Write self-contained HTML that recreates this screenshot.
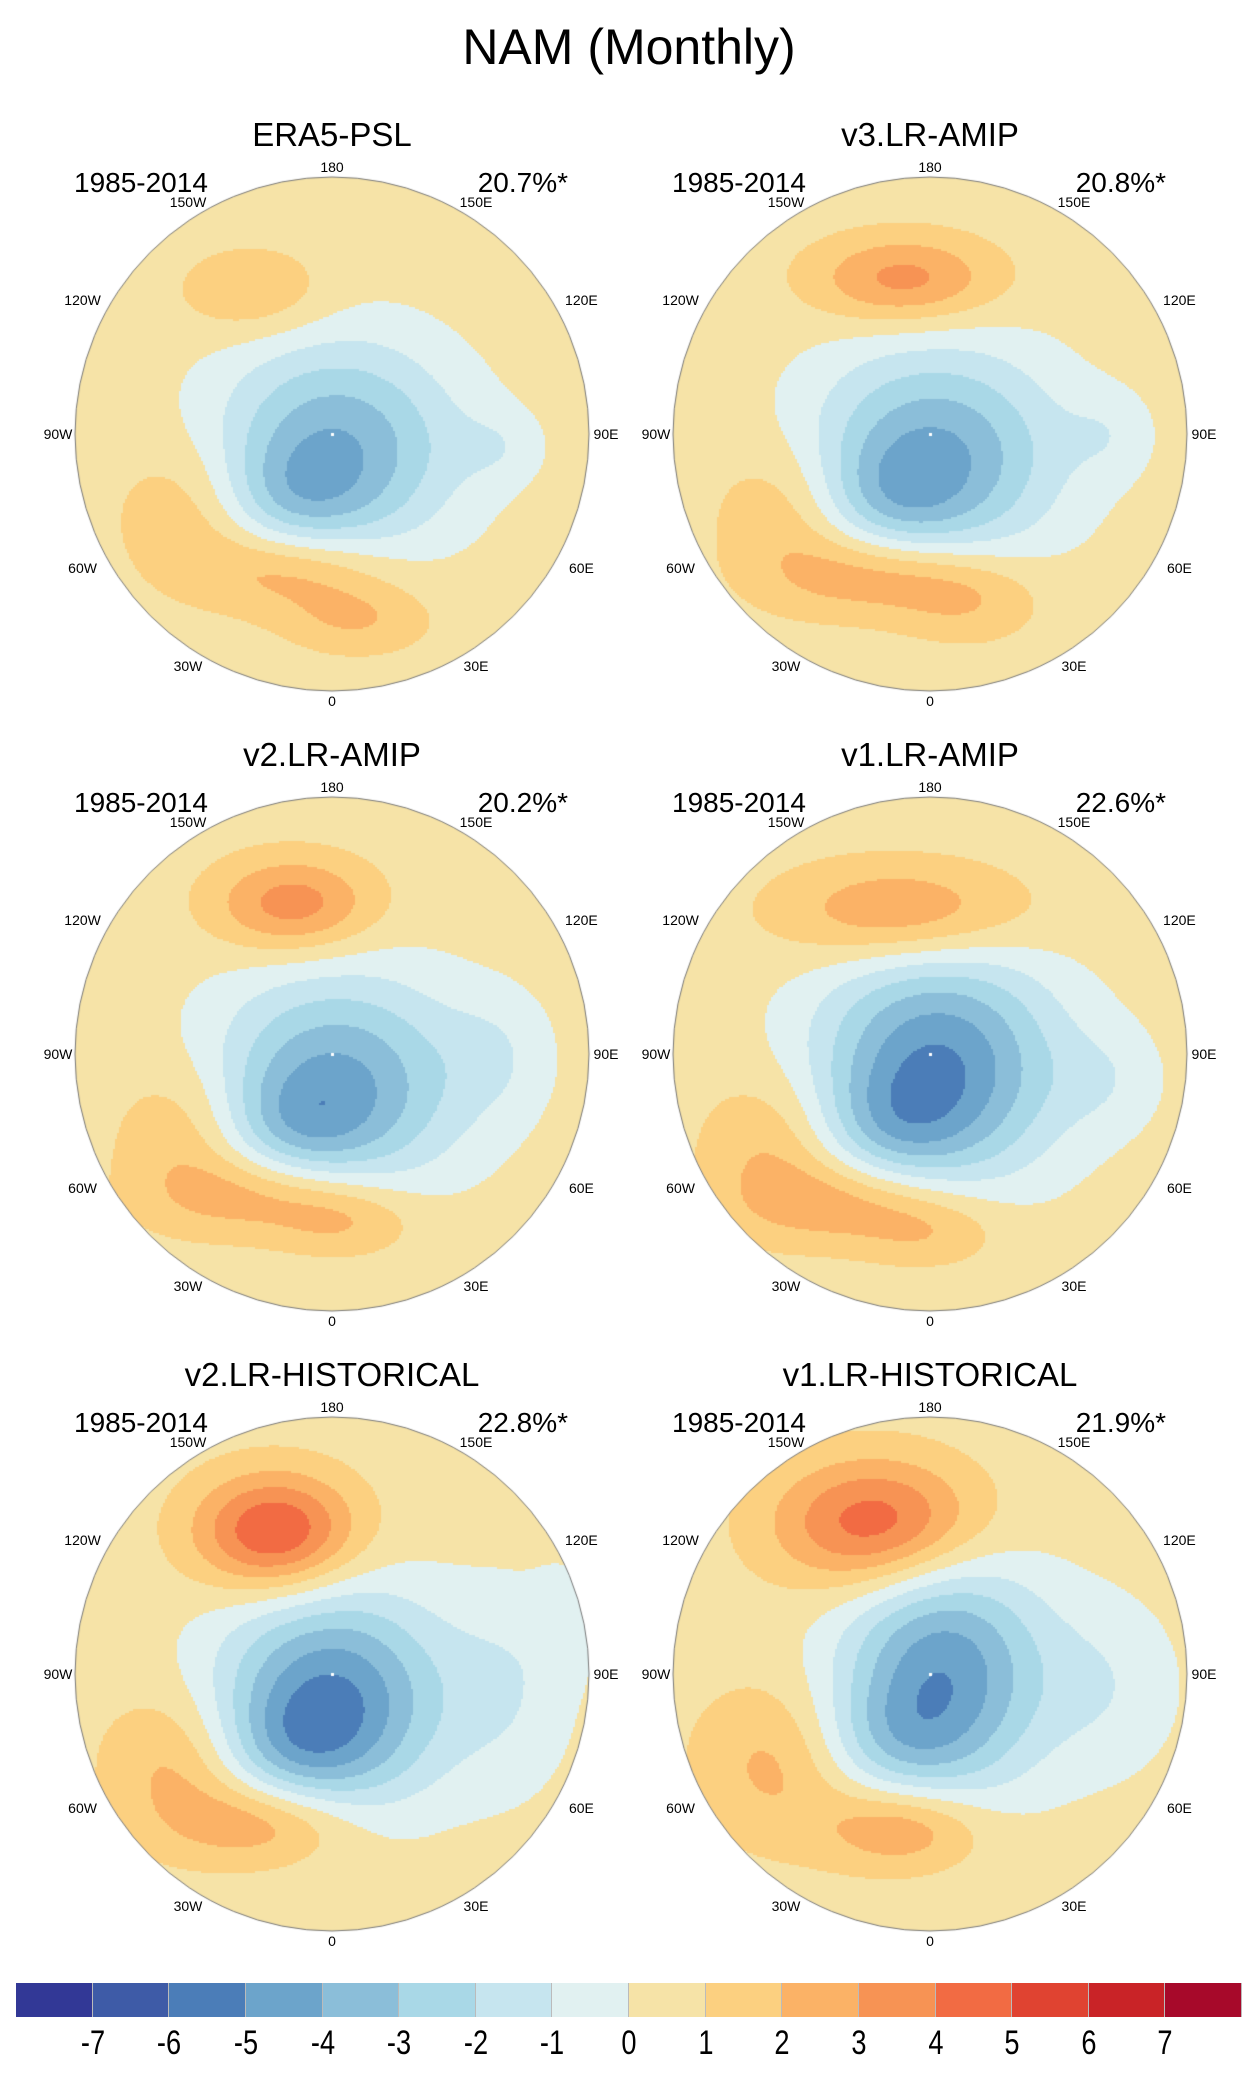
<!DOCTYPE html>
<html><head><meta charset="utf-8">
<style>
body{margin:0;background:#fff;font-family:"Liberation Sans",sans-serif;}
#page{position:relative;width:1258px;height:2086px;overflow:hidden;background:#fff;}
.t{position:absolute;white-space:nowrap;color:#000;line-height:1;}
.lon{font-size:14px;transform:translate(-50%,-50%);}
canvas{position:absolute;}
</style></head>
<body>
<div id="page">
<div class="t" style="left:0;width:1258px;text-align:center;top:22px;font-size:50px;">NAM (Monthly)</div>
<div id="cbar"></div>
</div>
<script>
// color levels (boundaries -7..7)
const levels = [-7,-6,-5,-4,-3,-2,-1,0,1,2,3,4,5,6,7];
const colors = ["#323896","#3e5ba7","#4b7db8","#6ca4cb","#8bbed9","#a9d8e7","#c6e5ef","#e1f1f1","#f6e3a7","#fcd080","#fbb266","#f79354","#f26b43","#e04331","#c92327","#a7092a"];
const panelTitles = ["ERA5-PSL","v3.LR-AMIP","v2.LR-AMIP","v1.LR-AMIP","v2.LR-HISTORICAL","v1.LR-HISTORICAL"];
const panelPct = ["20.7%*","20.8%*","20.2%*","22.6%*","22.8%*","21.9%*"];
const lonLabels = ["180","150W","120W","90W","60W","30W","0","30E","60E","90E","120E","150E"];
// anomaly centers per panel: [u, v, amplitude, sigmaU, sigmaV] in normalized disk coordinates
const anomERA5 = [[0.02,0.05,-4.4,0.33,0.29],[-0.15,0.25,-1.6,0.2,0.15],[-0.3,-0.55,1.6,0.2,0.12],[-0.55,0.3,1.5,0.2,0.2],[-0.15,0.53,2.3,0.25,0.12],[0.1,0.72,1.6,0.2,0.1],[0.65,0.05,-0.9,0.12,0.1]];
const anomV3 = [[0.02,0.08,-4.6,0.34,0.29],[-0.15,0.25,-1.5,0.2,0.15],[-0.1,-0.6,3.0,0.25,0.12],[-0.55,0.3,1.6,0.2,0.2],[-0.2,0.55,2.5,0.28,0.12],[0.15,0.65,1.5,0.2,0.12],[0.7,0.0,-0.9,0.12,0.12]];
const anomV2A = [[0.02,0.12,-4.7,0.34,0.3],[-0.15,0.28,-1.5,0.2,0.15],[-0.15,-0.58,3.2,0.22,0.13],[-0.55,0.3,1.7,0.2,0.2],[-0.25,0.55,2.4,0.3,0.12],[0.05,0.66,1.6,0.2,0.1],[0.65,0.0,-1.0,0.15,0.18]];
const anomV1A = [[0.03,0.05,-5.6,0.33,0.32],[-0.15,0.28,-1.5,0.2,0.15],[-0.1,-0.55,2.9,0.33,0.14],[-0.6,0.35,1.7,0.2,0.2],[-0.3,0.58,2.3,0.3,0.12],[0.0,0.7,1.4,0.2,0.1],[0.7,0.1,-0.9,0.15,0.15]];
const anomV2H = [[0.0,0.1,-5.6,0.31,0.3],[-0.15,0.28,-1.5,0.2,0.15],[-0.22,-0.55,4.8,0.22,0.16],[-0.6,0.35,1.9,0.2,0.2],[-0.25,0.58,2.6,0.25,0.12],[0.7,0.05,-1.2,0.18,0.3],[0.9,-0.2,-0.9,0.08,0.15]];
const anomV1H = [[0.05,0.0,-5.3,0.28,0.33],[-0.15,0.25,-1.5,0.2,0.15],[-0.2,-0.58,4.5,0.28,0.18],[-0.6,0.35,1.8,0.22,0.22],[-0.1,0.6,2.8,0.22,0.12],[0.7,0.05,-1.2,0.2,0.25]];
const anomaly = [anomERA5,anomV3,anomV2A,anomV1A,anomV2H,anomV1H];
const baseline = 0.5;

const page = document.getElementById('page');
const R = 257;
const cxs = [332,930], cys = [434,1054,1674];
function colorFor(val){
  let i = 0;
  while(i < levels.length && val >= levels[i]) i++;
  return colors[i];
}
for(let p=0;p<6;p++){
  const cx = cxs[p%2], cy = cys[Math.floor(p/2)];
  const top = cy - 433;
  const t = document.createElement('div');
  t.className='t';
  
  
  t.style.cssText=`left:${cx-250}px;width:500px;text-align:center;top:${top+117}px;font-size:33px;`;
  t.textContent = panelTitles[p]; page.appendChild(t);
  const y1 = document.createElement('div');
  y1.className='t';
  
  
  y1.style.cssText=`left:${cx-258}px;top:${top+168}px;font-size:28px;`;
  y1.textContent='1985-2014'; page.appendChild(y1);
  const pc = document.createElement('div');
  pc.className='t';
  
  
  pc.style.cssText=`left:${cx+100}px;width:136px;text-align:right;top:${top+168}px;font-size:28px;`;
  pc.textContent=panelPct[p]; page.appendChild(pc);
  const cv = document.createElement('canvas');
  
  
  cv.width = 2*R+4; cv.height = 2*R+4;
  cv.style.left=(cx-R-2)+'px'; cv.style.top=(cy-R-2)+'px';
  page.appendChild(cv);
  const ctx = cv.getContext('2d');
  ctx.save(); ctx.beginPath(); ctx.arc(R+2,R+2,R,0,Math.PI*2); ctx.clip();
  const st=2;
  for(let y=0;y<cv.height;y+=st){for(let x=0;x<cv.width;x+=st){
    const u=(x+st/2-R-2)/R, v=(y+st/2-R-2)/R;
    let val=baseline;
    for(const a of anomaly[p]){ const du=(u-a[0])/a[3], dv=(v-a[1])/a[4]; val+=a[2]*Math.exp(-0.5*(du*du+dv*dv)); }
    ctx.fillStyle=colorFor(val); ctx.fillRect(x,y,st,st);
  }}
  ctx.restore();
  ctx.fillStyle='#fff'; ctx.fillRect(R+1,R+1,3,3);
  ctx.strokeStyle='#777'; ctx.lineWidth=1;
  ctx.beginPath(); ctx.arc(R+2,R+2,R,0,Math.PI*2); ctx.stroke();
  for(let k=0;k<12;k++){
    const ang = k*30*Math.PI/180;
    const rr = k%3===0 ? 274 : 288;
    const lx = cx - Math.sin(ang)*rr, ly = cy - Math.cos(ang)*(k%3===0?267:268);
    const l = document.createElement('div');
    l.className='t lon';
    
    
    l.style.left=lx+'px'; l.style.top=ly+'px';
    l.textContent=lonLabels[k]; page.appendChild(l);
  }
}
const x0=16, x1=1242, bw=(x1-x0)/colors.length;
for(let i=0;i<colors.length;i++){
  const b=document.createElement('div');
  
  
  b.style.cssText=`position:absolute;left:${x0+i*bw}px;top:1983px;width:${bw}px;height:34px;background:${colors[i]};box-sizing:border-box;border-right:1px solid #bbb;`;
  page.appendChild(b);
}
for(let i=0;i<levels.length;i++){
  const l=document.createElement('div');
  l.className='t';
  
  
  l.style.cssText=`left:${x0+(i+1)*bw-40}px;width:80px;text-align:center;top:2026px;font-size:34px;transform:scaleX(0.8);`;
  l.textContent=levels[i]; page.appendChild(l);
}
</script>
</body></html>
